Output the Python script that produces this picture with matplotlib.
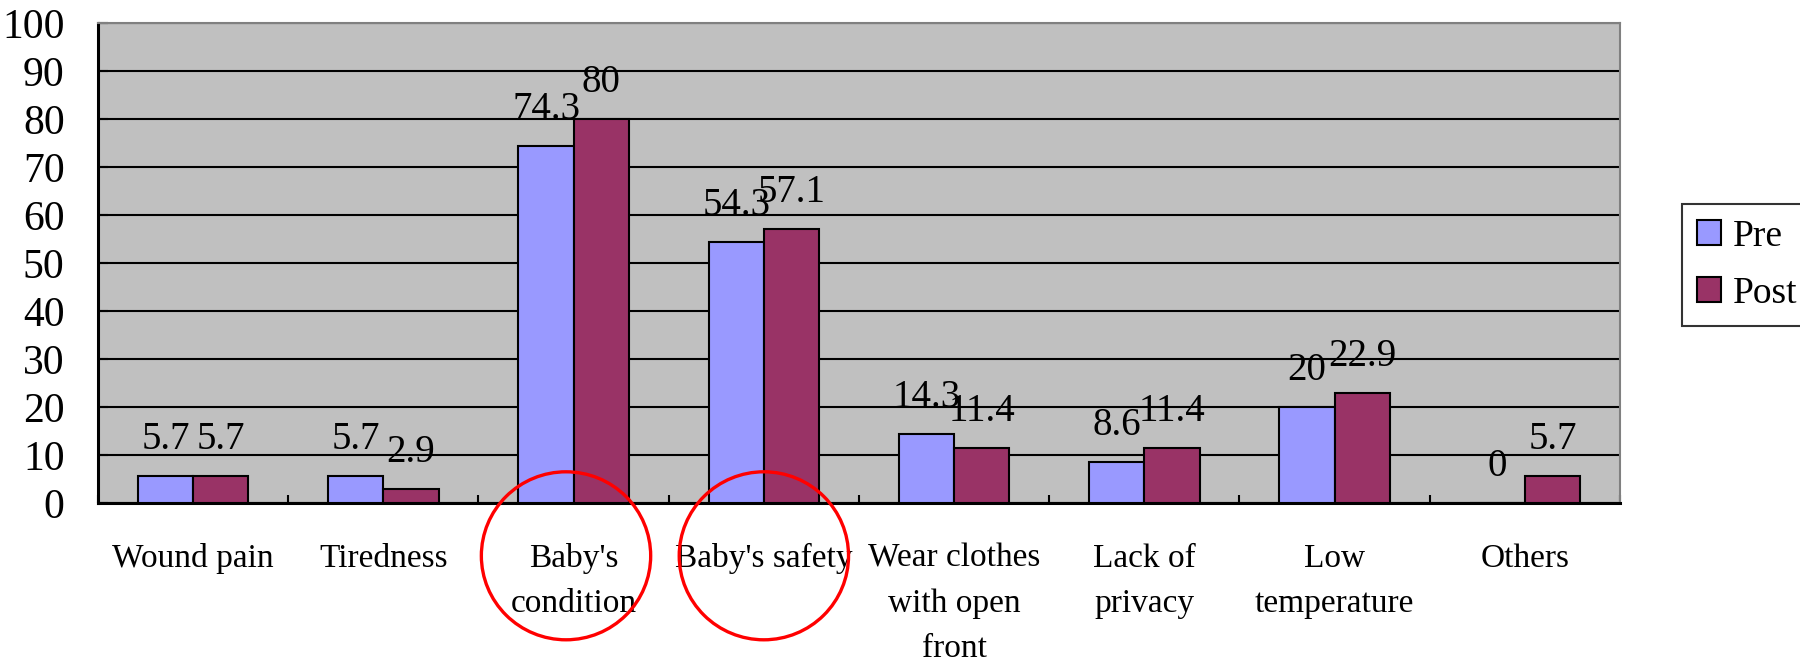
import matplotlib
matplotlib.use("Agg")
import matplotlib.pyplot as plt
import matplotlib.transforms as mtransforms
from matplotlib.patches import Ellipse
import numpy as np

plt.rcParams['font.family'] = ['Liberation Serif', 'DejaVu Serif']

# data
categories = ["Wound pain", "Tiredness", "Baby's\ncondition", "Baby's safety",
              "Wear clothes\nwith open\nfront", "Lack of\nprivacy", "Low\ntemperature", "Others"]
pre = [5.7, 5.7, 74.3, 54.3, 14.3, 8.6, 20, 0]
post = [5.7, 2.9, 80, 57.1, 11.4, 11.4, 22.9, 5.7]
circled = [2, 3]

fig = plt.figure(figsize=(18, 6.65), dpi=100)
ax = fig.add_axes([98/1800, 1 - 503/665, (1620-98)/1800, (503-23)/665])
ax.set_facecolor('#C0C0C0')

x = np.arange(len(categories))
w = 0.29
b1 = ax.bar(x - w/2, pre, w, color='#9999FF', edgecolor='black', linewidth=1.5, label='Pre', zorder=3)
b2 = ax.bar(x + w/2, post, w, color='#993366', edgecolor='black', linewidth=1.5, label='Post', zorder=3)

# value labels above each bar
for bars, vals in ((b1, pre), (b2, post)):
    for rect, v in zip(bars, vals):
        ax.annotate('%g' % v, (rect.get_x() + rect.get_width()/2, rect.get_height()),
                    xytext=(0, 19.5), textcoords='offset points',
                    ha='center', va='baseline', fontsize=28, zorder=4)

ax.set_xlim(-0.5, len(categories) - 0.5)
ax.set_ylim(0, 100)
ax.set_yticks(range(0, 101, 10))
ax.yaxis.grid(True, color='black', linewidth=1.5, zorder=1)
ax.tick_params(axis='y', direction='in', length=7, width=1.5, labelsize=30, pad=24)

ax.set_xticks(x)
ax.set_xticklabels(categories, fontsize=24, linespacing=1.62)
ax.set_xticks(np.arange(-0.5, len(categories)), minor=True)
ax.tick_params(axis='x', which='major', length=0, pad=29)
ax.tick_params(axis='x', which='minor', direction='in', length=6, width=1.5)

for s in ('left', 'bottom'):
    ax.spines[s].set_linewidth(2.2)
for s in ('top', 'right'):
    ax.spines[s].set_color('#808080')
    ax.spines[s].set_linewidth(1.5)

# red rings around the two baby-related categories
trans = mtransforms.blended_transform_factory(ax.transData, ax.transAxes)
for i, dx in zip(circled, (-0.04, 0.0)):
    ax.add_patch(Ellipse((x[i] + dx, -0.11), 0.89, 0.35, transform=trans, fill=False,
                         edgecolor='red', linewidth=2.4, clip_on=False, zorder=5))

leg = ax.legend(loc='center left', bbox_to_anchor=(1682/1800, 1 - 265/665),
                bbox_transform=fig.transFigure, fontsize=27, frameon=True,
                fancybox=False, edgecolor='black', handlelength=0.65, handleheight=0.65,
                handletextpad=0.3, labelspacing=0.6, borderpad=0.4, borderaxespad=0)
leg.get_frame().set_linewidth(1.5)

fig.savefig('out.png', dpi=100)
